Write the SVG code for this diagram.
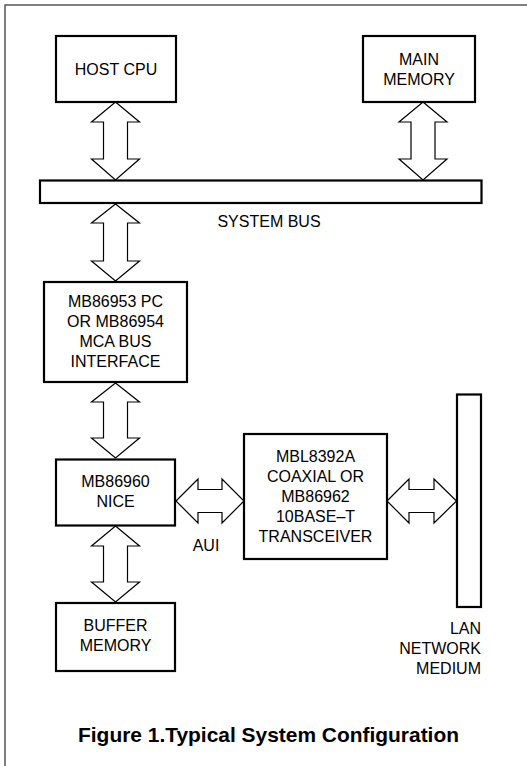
<svg xmlns="http://www.w3.org/2000/svg" width="527" height="766" viewBox="0 0 527 766">
<style>
.box{fill:#fff;stroke:#000;stroke-width:2.2}
.arr{fill:#fff;stroke:#000;stroke-width:1.2;stroke-linejoin:miter}
.t{font-family:"Liberation Sans",Arial,sans-serif;font-size:16px;fill:#000;text-anchor:middle}
.r{text-anchor:end}
.title{font-family:"Liberation Sans",Arial,sans-serif;font-size:20.5px;font-weight:bold;fill:#000}
.frame{fill:none;stroke:#555;stroke-width:1.5}
</style>
<rect width="527" height="766" fill="#fff"/>
<path class="frame" d="M5,766 V5 H527"/>
<g id="connectors">
<polygon class="arr" points="115.5,102 139.5,122 127.5,122 127.5,159 139.5,159 115.5,180 91.5,159 103.5,159 103.5,122 91.5,122"/>
<polygon class="arr" points="423,102 447,122 435,122 435,159 447,159 423,180 399,159 411,159 411,122 399,122"/>
<polygon class="arr" points="115.5,204 139.5,223 127.5,223 127.5,261 139.5,261 115.5,281 91.5,261 103.5,261 103.5,223 91.5,223"/>
<polygon class="arr" points="115.5,383 139.5,402 127.5,402 127.5,438 139.5,438 115.5,458 91.5,438 103.5,438 103.5,402 91.5,402"/>
<polygon class="arr" points="115.5,526 139.5,546 127.5,546 127.5,582 139.5,582 115.5,602 91.5,582 103.5,582 103.5,546 91.5,546"/>
<polygon class="arr" points="176,501 198,479 198,489.5 222,489.5 222,479 244,501 222,523 222,512.5 198,512.5 198,523"/>
<polygon class="arr" points="387,501 409,479 409,489.5 434,489.5 434,479 456.5,501 434,523 434,512.5 409,512.5 409,523"/>
</g>
<g id="host-cpu">
<rect class="box" x="56" y="36" width="120" height="66"/>
<text class="t" x="116" y="75">HOST CPU</text>
</g>
<g id="main-memory">
<rect class="box" x="363" y="36" width="112" height="66"/>
<text class="t" x="419" y="65">MAIN</text>
<text class="t" x="419" y="85">MEMORY</text>
</g>
<g id="system-bus">
<rect class="box" x="40" y="180.5" width="441.5" height="22.5"/>
<text class="t" x="269" y="226.5">SYSTEM BUS</text>
</g>
<g id="bus-interface">
<rect class="box" x="44" y="282" width="143" height="100"/>
<text class="t" x="115.5" y="307">MB86953 PC</text>
<text class="t" x="115.5" y="327">OR MB86954</text>
<text class="t" x="115.5" y="347">MCA BUS</text>
<text class="t" x="115.5" y="367">INTERFACE</text>
</g>
<g id="nice">
<rect class="box" x="56" y="459.5" width="119" height="66"/>
<text class="t" x="115.5" y="487">MB86960</text>
<text class="t" x="115.5" y="507">NICE</text>
</g>
<g id="transceiver">
<rect class="box" x="244" y="434" width="143" height="125"/>
<text class="t" x="315.5" y="462">MBL8392A</text>
<text class="t" x="315.5" y="482">COAXIAL OR</text>
<text class="t" x="315.5" y="502">MB86962</text>
<text class="t" x="315.5" y="522">10BASE–T</text>
<text class="t" x="315.5" y="542">TRANSCEIVER</text>
</g>
<g id="lan">
<rect class="box" x="457" y="394.5" width="24" height="212.5"/>
<text class="t r" x="481" y="634">LAN</text>
<text class="t r" x="481" y="654">NETWORK</text>
<text class="t r" x="481" y="674">MEDIUM</text>
</g>
<g id="buffer-memory">
<rect class="box" x="56" y="603" width="119" height="68"/>
<text class="t" x="115.5" y="631">BUFFER</text>
<text class="t" x="115.5" y="651">MEMORY</text>
</g>
<text class="t" x="206" y="551">AUI</text>
<text class="title" x="78" y="742" textLength="381" lengthAdjust="spacingAndGlyphs">Figure 1.Typical System Configuration</text>
</svg>
